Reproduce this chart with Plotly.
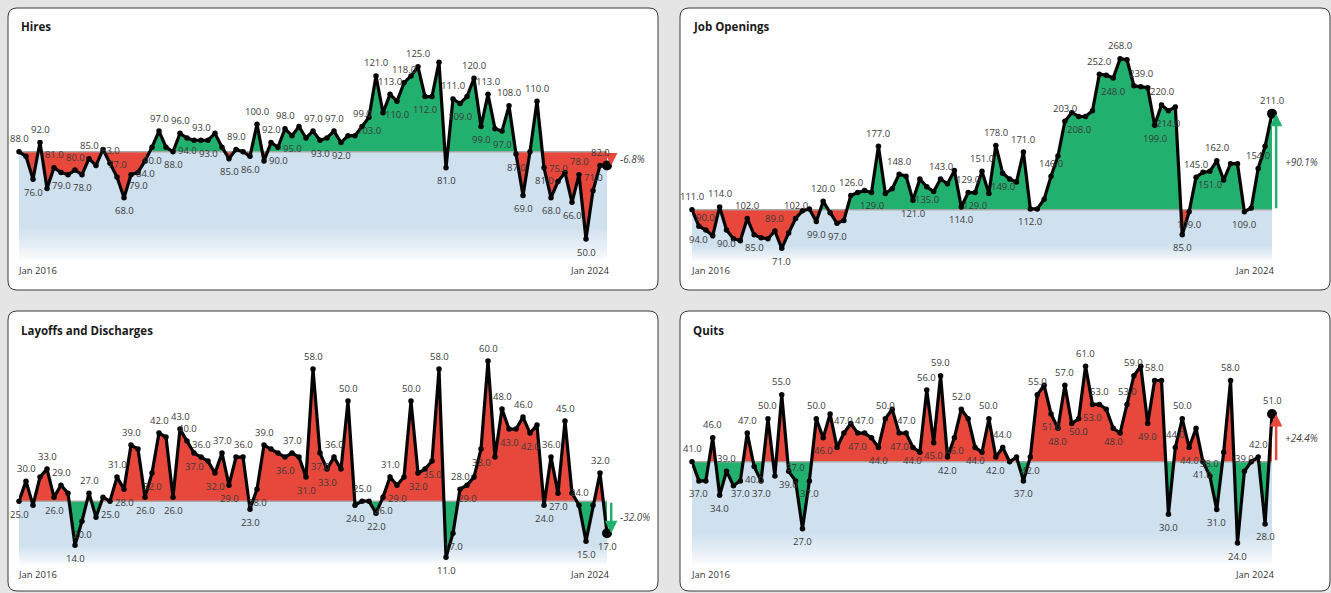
import plotly.graph_objects as go

# ---- data -------------------------------------------------------------
titles = ["Hires", "Job Openings", "Layoffs and Discharges", "Quits"]
tick_labels = ["Jan 2016", "Jan 2024"]

hires = [88, 86, 76, 92, 72, 81, 79, 78, 80, 78, 85, 82, 89, 83, 77, 68, 78, 79, 84, 90,
         97, 90, 88, 96, 94, 93, 93, 93, 96, 90, 85,
         89, 88, 86, 100, 84, 92, 90, 98, 95, 99, 94, 97, 93, 94, 97, 92, 95, 95, 99, 103,
         121, 105, 113, 110, 118, 121, 125, 112, 112, 127,
         81, 111, 109, 112, 120, 99, 113, 98, 97, 108, 87, 69, 88, 110, 81, 68, 75, 79, 66,
         78, 50, 71, 82, 82]

job_openings = [111, 94, 90, 84, 114, 90, 81, 79, 102, 85, 82, 81, 89, 71, 87, 102, 110, 112,
                99, 120, 108, 97, 100, 126, 129, 131, 129, 177, 128, 133, 148,
                146, 121, 143, 135, 130, 143, 138, 152, 114, 129, 129, 151, 128, 178, 149, 143,
                140, 171, 112, 112, 122, 146, 167, 203, 212, 208, 208, 214, 252, 251,
                248, 268, 267, 240, 239, 238, 199, 220, 214, 218, 85, 109, 145, 150, 151, 162,
                142, 159, 159, 109, 113, 154, 177, 211]

layoffs = [25, 30, 24, 31, 33, 26, 29, 27, 14, 20, 27, 21, 26, 25, 31, 28, 39, 38, 26, 32,
           42, 41, 26, 43, 40, 37, 36, 35, 32, 37, 29,
           36, 36, 23, 28, 39, 38, 37, 36, 37, 36, 31, 58, 37, 33, 36, 33, 50, 24, 25, 25,
           22, 26, 31, 29, 31, 50, 32, 33, 35, 58,
           11, 17, 28, 29, 31, 38, 60, 36, 48, 43, 43, 46, 42, 44, 24, 36, 27, 45, 27, 24,
           15, 24, 32, 17]

quits = [41, 37, 37, 46, 34, 39, 36, 37, 47, 40, 37, 50, 38, 55, 39, 37, 27, 37, 50, 46,
         51, 44, 47, 49, 47, 47, 46, 44, 50, 52, 47,
         47, 44, 43, 56, 45, 59, 42, 46, 52, 50, 44, 43, 50, 42, 44, 41, 42, 37, 42, 55,
         57, 51, 48, 57, 49, 50, 61, 53, 53, 52,
         48, 47, 53, 59, 61, 49, 58, 58, 30, 44, 50, 44, 48, 41, 38, 31, 43, 58, 24, 39,
         41, 42, 28, 51]

series = [hires, job_openings, layoffs, quits]
# a rise is good news for hires and openings, bad news for layoffs and quits
rise_is_good = [True, True, False, False]

# ---- styling ----------------------------------------------------------
W, H = 1331, 593
GREEN = "#22b06e"
RED = "#e8483c"
BLUE = "207,224,238"
FONT = "Segoe UI, Open Sans, sans-serif"
EXTRA = 50  # room (px) right of the last month for the change arrow

# pixel geometry: panel box and plotting rectangle (left, right, top, bottom)
panels = [
    dict(box=(8, 8, 658, 290), plot=(19, 607, 33, 262)),
    dict(box=(680, 8, 1330, 290), plot=(692, 1272, 33, 262)),
    dict(box=(8, 311, 658, 591), plot=(19, 607, 337, 566)),
    dict(box=(680, 311, 1330, 591), plot=(692, 1272, 337, 566)),
]


def px(x):
    return x / W


def py(y):
    return 1 - y / H


def rounded_box(x0, y0, x1, y1, r=9):
    rx, ry = r / W, r / H
    a, b, c, d = px(x0), py(y1), px(x1), py(y0)
    return (f"M {a+rx},{b} L {c-rx},{b} Q {c},{b} {c},{b+ry} "
            f"L {c},{d-ry} Q {c},{d} {c-rx},{d} L {a+rx},{d} "
            f"Q {a},{d} {a},{d-ry} L {a},{b+ry} Q {a},{b} {a+rx},{b} Z")


fig = go.Figure()
layout = dict(
    width=W, height=H, margin=dict(l=0, r=0, t=0, b=0),
    paper_bgcolor="#e5e5e5", plot_bgcolor="rgba(0,0,0,0)",
    showlegend=False, font=dict(family=FONT, color="#333"),
)
shapes, annotations = [], []

for k, (vals, title, good_up, pan) in enumerate(zip(series, titles, rise_is_good, panels)):
    n = len(vals)
    xs_idx = list(range(n))
    sfx = "" if k == 0 else str(k + 1)
    xref, yref = "x" + sfx, "y" + sfx
    left, right, top, bottom = pan["plot"]
    step = (right - left) / (n - 1)
    ymin, ymax = 0.8 * min(vals), 1.1 * max(vals)
    base = vals[0]
    above_col = GREEN if good_up else RED
    below_col = RED if good_up else GREEN

    layout["xaxis" + sfx] = dict(domain=[px(left), px(right + EXTRA)],
                                 range=[0, n - 1 + EXTRA / step],
                                 visible=False, anchor=yref)
    layout["yaxis" + sfx] = dict(domain=[py(bottom), py(top)], range=[ymin, ymax],
                                 visible=False, anchor=xref)

    # white rounded card behind the panel
    bx0, by0, bx1, by1 = pan["box"]
    shapes.append(dict(type="path", xref="paper", yref="paper", layer="below",
                       path=rounded_box(bx0, by0, bx1, by1),
                       fillcolor="white", line=dict(color="#3a3a3a", width=1)))

    # pale band under the starting level, fading out at the bottom
    fig.add_trace(go.Scatter(
        x=[0, n - 1, n - 1, 0, 0], y=[base, base, ymin, ymin, base],
        xaxis=xref, yaxis=yref, mode="lines", line=dict(width=0),
        fill="toself",
        fillgradient=dict(type="vertical", colorscale=[
            [0.0, f"rgba({BLUE},0)"], [0.12, f"rgba({BLUE},0.45)"],
            [0.32, f"rgba({BLUE},1)"], [1.0, f"rgba({BLUE},1)"]]),
        hoverinfo="skip"))

    # densify the series at the crossings of the starting level
    dx, dy = [], []
    for i in range(n):
        dx.append(i)
        dy.append(vals[i])
        if i < n - 1:
            a, b = vals[i] - base, vals[i + 1] - base
            if a * b < 0:
                dx.append(i + a / (a - b))
                dy.append(base)
    upper = [max(v, base) for v in dy]
    lower = [min(v, base) for v in dy]
    flat = [base] * len(dx)

    for part, col in ((upper, above_col), (lower, below_col)):
        fig.add_trace(go.Scatter(x=dx, y=flat, xaxis=xref, yaxis=yref, mode="lines",
                                 line=dict(width=0), hoverinfo="skip"))
        fig.add_trace(go.Scatter(x=dx, y=part, xaxis=xref, yaxis=yref, mode="lines",
                                 line=dict(width=0), fill="tonexty", fillcolor=col,
                                 hoverinfo="skip"))

    # starting level reference line
    fig.add_trace(go.Scatter(x=[0, n - 1], y=[base, base], xaxis=xref, yaxis=yref,
                             mode="lines", line=dict(color="rgba(165,165,165,0.9)", width=1.5),
                             hoverinfo="skip"))

    # the series itself
    fig.add_trace(go.Scatter(x=xs_idx, y=vals, xaxis=xref, yaxis=yref, mode="lines+markers",
                             line=dict(color="#050505", width=3.2),
                             marker=dict(color="#050505", size=5.5), cliponaxis=False))
    fig.add_trace(go.Scatter(x=[n - 1], y=[vals[-1]], xaxis=xref, yaxis=yref, mode="markers",
                             marker=dict(color="#050505", size=10), cliponaxis=False))

    # change since the first month
    last = vals[-1]
    pct = (last - base) / base * 100
    arrow_col = above_col if last >= base else below_col
    ax_pos = n - 1 + 0.6
    annotations.append(dict(x=ax_pos, y=last, ax=ax_pos, ay=base, xref=xref, yref=yref,
                            axref=xref, ayref=yref, showarrow=True, text="",
                            arrowhead=2, arrowsize=1, arrowwidth=2.5, arrowcolor=arrow_col,
                            standoff=0, startstandoff=0))
    annotations.append(dict(x=ax_pos, y=(base + last) / 2, xref=xref, yref=yref,
                            text=f"<i>{pct:+.1f}%</i>", showarrow=False, xanchor="left",
                            xshift=7, font=dict(size=10, color="#444", family=FONT)))

    # title and first/last date labels
    annotations.append(dict(x=px(bx0 + 11), y=py(by0 + 19), xref="paper", yref="paper",
                            text=f"<b>{title}</b>", showarrow=False, xanchor="left",
                            yanchor="middle", font=dict(size=11.5, color="#1a1a1a", family=FONT)))
    for pos, txt, anchor, shift in ((0, tick_labels[0], "left", -3),
                                    (n - 1, tick_labels[1], "right", 4)):
        annotations.append(dict(x=pos, y=py(bottom + 8), xref=xref, yref="paper", text=txt,
                                showarrow=False, xanchor=anchor, yanchor="middle", xshift=shift,
                                font=dict(size=9.5, color="#333", family=FONT)))

    # value labels, skipping those that would collide with an earlier one
    def to_pix(i, v):
        return (left + i * step, top + (ymax - v) / (ymax - ymin) * (bottom - top))

    placed = []
    for i, v in enumerate(vals):
        prev = vals[i - 1] if i > 0 else v
        nxt = vals[i + 1] if i < n - 1 else v
        up = v >= (prev + nxt) / 2
        cx, cy = to_pix(i, v)
        cy += -13 if up else 13
        txt = f"{v:.1f}"
        w, h = 5.0 * len(txt), 11
        box = (cx - w / 2, cy - h / 2, cx + w / 2, cy + h / 2)
        if any(not (box[2] < b[0] or box[0] > b[2] or box[3] < b[1] or box[1] > b[3])
               for b in placed):
            continue
        placed.append(box)
        annotations.append(dict(x=i, y=v, xref=xref, yref=yref, text=txt, showarrow=False,
                                yshift=13 if up else -13, xanchor="center", yanchor="middle",
                                font=dict(size=9.5, color="#3a3a3a", family=FONT)))

layout["shapes"] = shapes
layout["annotations"] = annotations
fig.update_layout(**layout)
fig.write_html("out.html")
